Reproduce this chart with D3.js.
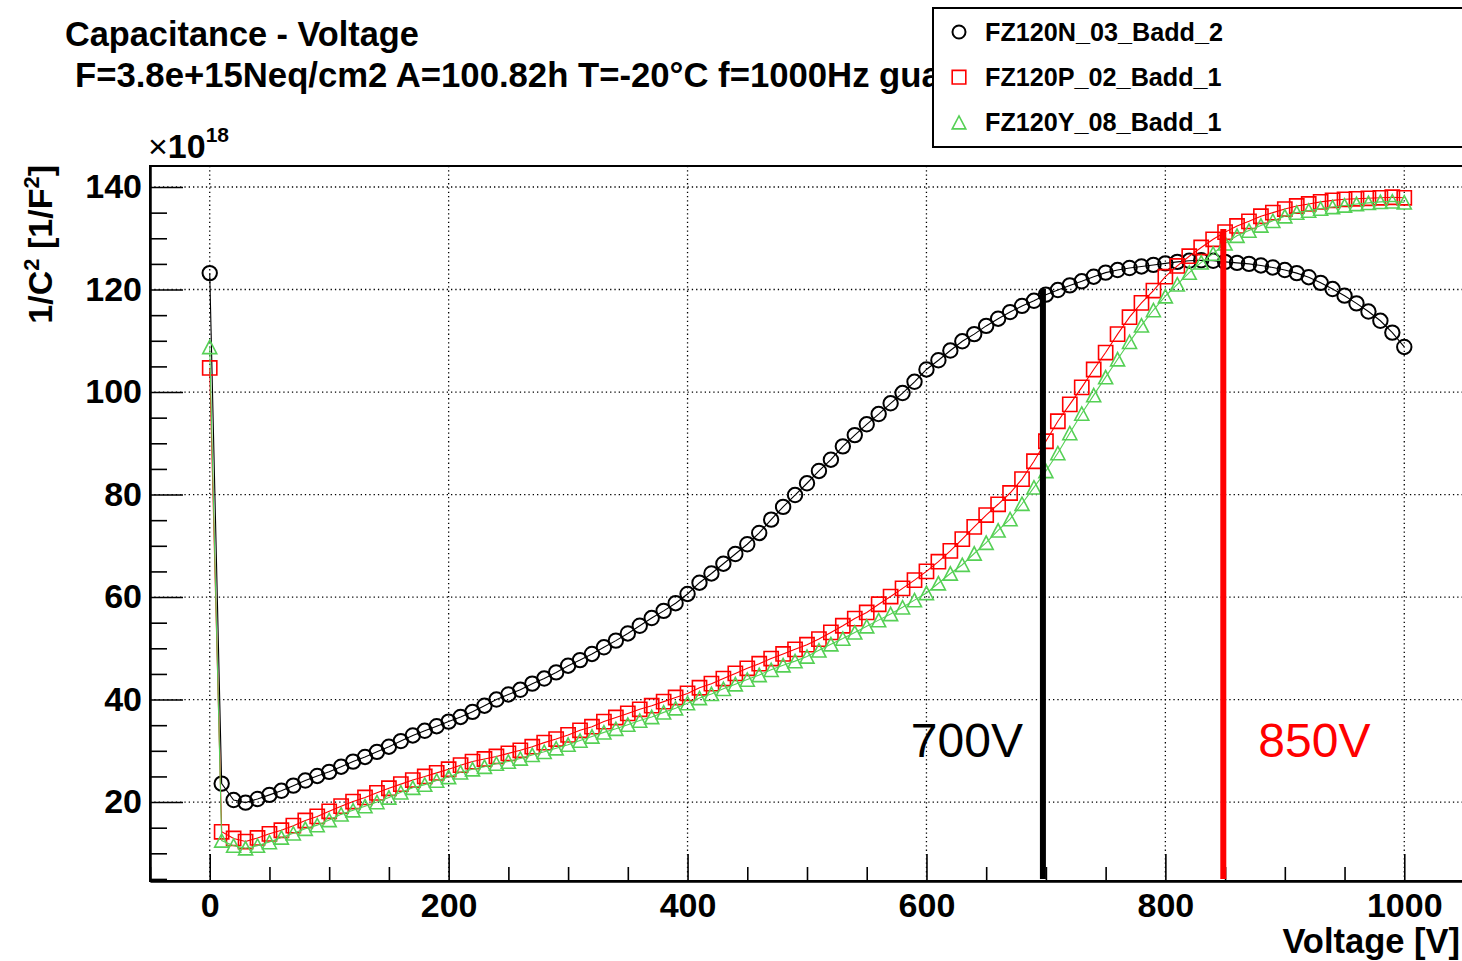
<!DOCTYPE html>
<html><head><meta charset="utf-8">
<script src="https://cdn.jsdelivr.net/npm/d3@7"></script>
<style>
html,body{margin:0;padding:0;background:#fff;}
svg{display:block;}
text{font-family:"Liberation Sans",Arial,Helvetica,sans-serif;}
</style></head><body>
<svg id="chart" width="1462" height="961"></svg>
<script>
// ---------------- data ----------------
const voltages = [0,10,20,30,40,50,60,70,80,90,
  100,110,120,130,140,150,160,170,180,190,
  200,210,220,230,240,250,260,270,280,290,
  300,310,320,330,340,350,360,370,380,390,
  400,410,420,430,440,450,460,470,480,490,
  500,510,520,530,540,550,560,570,580,590,
  600,610,620,630,640,650,660,670,680,690,
  700,710,720,730,740,750,760,770,780,790,
  800,810,820,830,840,850,860,870,880,890,
  900,910,920,930,940,950,960,970,980,990,
  1000];

const fz120n = [123.2,23.6,20.4,19.9,20.6,21.4,22.2,23.2,24.2,25.1,
  25.9,26.9,27.9,28.8,29.8,30.8,31.9,33.0,33.9,34.8,
  35.7,36.6,37.6,38.8,40.0,41.0,41.9,43.1,44.1,45.3,
  46.6,47.7,48.9,50.2,51.5,52.9,54.4,55.9,57.3,58.8,
  60.6,62.8,64.6,66.5,68.4,70.3,72.5,75.1,77.6,79.9,
  82.2,84.6,86.8,89.4,91.6,93.7,95.7,97.8,99.8,102.0,
  104.4,106.2,108.1,109.9,111.3,112.9,114.3,115.6,116.8,117.8,
  119.0,119.9,120.8,121.6,122.5,123.3,123.8,124.2,124.5,124.8,
  125.1,125.4,125.6,125.7,125.6,125.4,125.2,125.0,124.7,124.3,
  123.8,123.2,122.4,121.3,120.1,118.8,117.3,115.7,113.9,111.6,
  108.8];

const fz120p = [104.7,14.2,12.9,12.3,13.0,13.8,14.5,15.4,16.4,17.2,
  18.2,19.2,20.1,20.9,21.8,22.7,23.5,24.3,25.0,25.7,
  26.4,27.2,27.9,28.4,28.9,29.5,30.1,30.8,31.6,32.3,
  33.1,34.0,34.7,35.7,36.5,37.3,38.1,38.8,39.6,40.4,
  41.2,42.3,43.1,44.1,45.1,46.1,47.0,48.0,48.9,49.8,
  50.7,51.8,53.1,54.4,55.8,57.0,58.6,60.1,61.7,63.3,
  65.0,66.9,69.0,71.3,73.7,76.0,78.1,80.3,83.0,86.5,
  90.4,94.3,97.6,100.9,104.4,107.7,111.3,114.6,117.4,119.8,
  122.5,124.6,126.5,128.2,129.8,131.2,132.4,133.3,134.3,135.0,
  135.7,136.3,136.7,137.1,137.4,137.6,137.7,137.8,137.9,138.0,
  137.9];

const fz120y = [108.8,12.5,11.5,11.0,11.5,12.2,13.1,13.9,14.8,15.5,
  16.5,17.6,18.4,19.2,20.0,20.9,21.9,22.8,23.4,24.2,
  24.9,25.8,26.4,26.9,27.5,27.9,28.5,29.2,29.8,30.5,
  31.2,32.0,32.8,33.6,34.3,35.1,35.9,36.6,37.5,38.3,
  39.3,40.3,41.1,42.1,43.0,43.9,44.8,45.8,46.7,47.5,
  48.4,49.6,50.8,51.9,53.1,54.3,55.5,56.7,58.0,59.4,
  60.8,62.7,64.6,66.3,68.5,70.6,73.0,75.2,78.2,81.4,
  84.6,88.1,92.0,95.8,99.4,102.9,106.4,109.8,113.0,116.0,
  118.7,121.0,123.3,125.3,127.0,129.0,130.5,131.5,132.5,133.4,
  134.3,135.0,135.4,135.8,136.1,136.4,136.7,136.9,137.1,137.2,
  137.0];

const seriesNames = ["FZ120N_03_Badd_2", "FZ120P_02_Badd_1", "FZ120Y_08_Badd_1"];
const xTicks = [0, 200, 400, 600, 800, 1000];
const xMinorTicks = [-50,50,100,150,250,300,350,450,500,550,650,700,750,850,900,950,1050];
const yTicks = [20, 40, 60, 80, 100, 120, 140];
const yMinorTicks = [5,10,15,25,30,35,45,50,55,65,70,75,85,90,95,105,110,115,125,130,135];
const markVoltages = [697.5, 848.5];
const markTops = [120.1, 131.8];
const markLabels = ["700V", "850V"];
const titleLine1 = "Capacitance - Voltage";
const titleLine2 = "F=3.8e+15Neq/cm2 A=100.82h T=-20°C f=1000Hz guard";

// ---------------- drawing ----------------
const svg = d3.select("#chart");
svg.append("rect").attr("width",1462).attr("height",961).attr("fill","#fff");

const X0 = 150, X1 = 1464, Y0 = 881, Y1 = 166;
const x = d3.scaleLinear().domain([-50, 1050]).range([X0, X1]);
const y = d3.scaleLinear().domain([4.6, 144.1]).range([Y0, Y1]);

const FONT = '"Liberation Sans",Arial,Helvetica,sans-serif';

// grid
const grid = svg.append("g").attr("stroke","#000").attr("stroke-width",1.3)
  .attr("stroke-dasharray","1.3,3");
grid.selectAll(".gx").data(xTicks).join("line")
  .attr("x1",d=>x(d)).attr("x2",d=>x(d)).attr("y1",Y0).attr("y2",Y1);
grid.selectAll(".gy").data(yTicks).join("line")
  .attr("x1",X0).attr("x2",X1).attr("y1",d=>y(d)).attr("y2",d=>y(d));

// frame
svg.append("rect").attr("x",X0).attr("y",Y1).attr("width",X1-X0).attr("height",Y0-Y1)
  .attr("fill","none").attr("stroke","#000").attr("stroke-width",2);

// x axis
const gxMin = svg.append("g").attr("transform",`translate(0,${Y0})`)
  .call(d3.axisBottom(x).tickValues(xMinorTicks).tickSize(-14).tickSizeOuter(0).tickFormat(""));
const gxMaj = svg.append("g").attr("transform",`translate(0,${Y0})`)
  .call(d3.axisBottom(x).tickValues(xTicks).tickSize(-27).tickSizeOuter(0).tickPadding(12).tickFormat(d3.format("d")));
// y axis
const gyMin = svg.append("g").attr("transform",`translate(${X0},0)`)
  .call(d3.axisLeft(y).tickValues(yMinorTicks).tickSize(-17).tickSizeOuter(0).tickFormat(""));
const gyMaj = svg.append("g").attr("transform",`translate(${X0},0)`)
  .call(d3.axisLeft(y).tickValues(yTicks).tickSize(-33).tickSizeOuter(0).tickPadding(8).tickFormat(d3.format("d")));
[gxMin,gxMaj,gyMin,gyMaj].forEach(g=>{
  g.select(".domain").attr("stroke","#000").attr("stroke-width",2);
  g.selectAll(".tick line").attr("stroke","#000").attr("stroke-width",1.6);
  g.selectAll(".tick text").attr("fill","#000").style("font-family",FONT)
    .style("font-size","34px").style("font-weight","bold");
});

// series
const series = [
  {name: seriesNames[0], values: fz120n, color:"#000000", marker:"circle", sw:2},
  {name: seriesNames[1], values: fz120p, color:"#ff0000", marker:"square", sw:1.6},
  {name: seriesNames[2], values: fz120y, color:"#55d055", marker:"triangle", sw:1.6}
];
function markerPath(type, r){
  if(type==="square") return `M${-r},${-r}H${r}V${r}H${-r}Z`;
  if(type==="triangle") return `M${-r},${r*0.95}H${r}L0,${-r*0.95}Z`;
  return `M${-r},0A${r},${r} 0 1,0 ${r},0A${r},${r} 0 1,0 ${-r},0Z`;
}
const markerSize = {circle:7.2, square:7.1, triangle:7};
const line = d3.line();
series.forEach(s=>{
  const pts = voltages.map((v,i)=>[x(v), y(s.values[i])]);
  const g = svg.append("g");
  g.append("path").attr("d", line(pts)).attr("fill","none")
    .attr("stroke", s.color).attr("stroke-width",1.1);
  g.selectAll("path.m").data(pts).join("path").attr("class","m")
    .attr("transform",d=>`translate(${d[0]},${d[1]})`)
    .attr("d", markerPath(s.marker, markerSize[s.marker]))
    .attr("fill","none").attr("stroke",s.color).attr("stroke-width",s.sw);
});

// annotation lines
const markColors = ["#000000","#ff0000"];
const markWidths = [6,6];
markVoltages.forEach((v,i)=>{
  svg.append("line").attr("x1",x(v)).attr("x2",x(v)).attr("y1",y(markTops[i])).attr("y2",y(5.0))
    .attr("stroke",markColors[i]).attr("stroke-width",markWidths[i]);
});
svg.append("text").attr("x",x(markVoltages[0])-20).attr("y",757).attr("text-anchor","end")
  .style("font-size","48px").attr("fill","#000").text(markLabels[0]);
svg.append("text").attr("x",x(markVoltages[1])+35).attr("y",757).attr("text-anchor","start")
  .style("font-size","48px").attr("fill","#ff0000").text(markLabels[1]);

// titles
svg.append("text").attr("x",65).attr("y",46).style("font-size","34.3px").style("font-weight","bold").text(titleLine1);
svg.append("text").attr("x",75).attr("y",87).style("font-size","34.7px").style("font-weight","bold").text(titleLine2);

// x axis title
svg.append("text").attr("x",1460).attr("y",953).attr("text-anchor","end")
  .style("font-size","34.5px").style("font-weight","bold").text("Voltage [V]");

// y axis title
const yt = svg.append("text").attr("transform","translate(52,165) rotate(-90)").attr("text-anchor","end")
  .style("font-size","34px").style("font-weight","bold");
yt.append("tspan").text("1/C");
yt.append("tspan").attr("dy",-13).style("font-size","22px").text("2");
yt.append("tspan").attr("dy",13).text(" [1/F");
yt.append("tspan").attr("dy",-13).style("font-size","22px").text("2");
yt.append("tspan").attr("dy",13).text("]");

// exponent
const ex = svg.append("text").attr("x",148).attr("y",158).style("font-size","34px");
ex.append("tspan").style("font-weight","normal").text("×");
ex.append("tspan").style("font-weight","bold").text("10");
ex.append("tspan").attr("dy",-16).style("font-weight","bold").style("font-size","21px").text("18");

// legend
const lg = svg.append("g");
lg.append("rect").attr("x",933).attr("y",8).attr("width",560).attr("height",139)
  .attr("fill","#fff").attr("stroke","#000").attr("stroke-width",2);
series.forEach((s,i)=>{
  const cy = 32 + i*45.2;
  lg.append("path").attr("transform",`translate(959,${cy})`)
    .attr("d", markerPath(s.marker, s.marker==="circle"?6.5:6.8))
    .attr("fill","none").attr("stroke",s.color).attr("stroke-width",s.sw);
  lg.append("text").attr("x",985).attr("y",cy+8.8).style("font-size","25.2px").style("font-weight","bold")
    .text(s.name);
});
</script>
</body></html>
